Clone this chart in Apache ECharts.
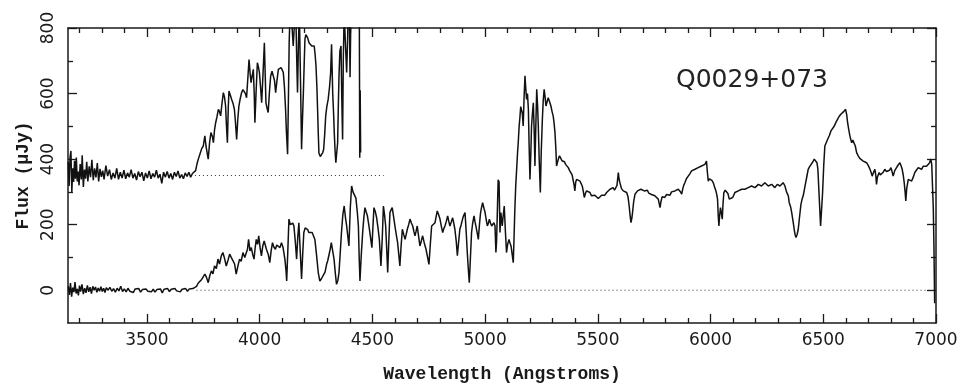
<!DOCTYPE html>
<html>
<head>
<meta charset="utf-8">
<script src="https://cdn.jsdelivr.net/npm/echarts@6/dist/echarts.min.js"></script>
<style>
  html, body { margin: 0; padding: 0; background: #fff; }
  #chart { width: 962px; height: 390px; }
</style>
</head>
<body>
<div id="chart"></div>
<script>
// Axis ticks and labels
const xMajorTicks = [3500, 4000, 4500, 5000, 5500, 6000, 6500, 7000];
const xMinorTicks = [3200, 3300, 3400, 3600, 3700, 3800, 3900, 4100, 4200, 4300, 4400,
  4600, 4700, 4800, 4900, 5100, 5200, 5300, 5400, 5600, 5700, 5800, 5900,
  6100, 6200, 6300, 6400, 6600, 6700, 6800, 6900];
const yMajorTicks = [0, 200, 400, 600, 800];
const yMinorTicks = [100, 300, 500, 700];

// Offset copy of the spectrum (shifted by +350 and stretched), [wavelength, flux]
const upperBlue = [[3151,392],[3155,318],[3159,405],[3163,425],[3167,300],[3171,372],[3175,330],[3179,395],[3183,340],[3187,405],[3191,332],[3195,362],[3199,320],[3204,385],[3209,338],[3213,412],[3218,315],[3223,368],[3228,340],[3233,392],[3238,332],[3244,378],[3250,345],[3256,398],[3262,336],[3268,372],[3274,344],[3280,388],[3286,332],[3292,370],[3298,346],[3304,365],[3310,338],[3318,380],[3326,348],[3334,368],[3342,338],[3350,358],[3358,342],[3366,372],[3374,338],[3382,360],[3390,342],[3398,366],[3406,340],[3414,358],[3422,345],[3430,368],[3438,342],[3446,356],[3454,336],[3462,362],[3470,346],[3478,360],[3486,334],[3494,358],[3502,342],[3510,364],[3518,340],[3526,356],[3534,345],[3542,366],[3550,342],[3558,354],[3566,326],[3574,360],[3582,345],[3590,362],[3598,342],[3606,356],[3614,338],[3622,360],[3630,347],[3638,364],[3646,342],[3654,353],[3662,340],[3670,358],[3678,347],[3686,360],[3694,345],[3702,356],[3710,350]];

const upperForest = [[3716,365],[3722,385],[3728,400],[3735,415],[3743,432],[3750,440],[3757,471],[3762,440],[3767,420],[3772,400],[3778,450],[3784,481],[3790,470],[3795,450],[3800,490],[3805,511],[3811,530],[3817,552],[3822,545],[3827,532],[3833,570],[3839,603],[3844,590],[3849,562],[3853,500],[3857,450],[3861,560],[3864,608],[3870,595],[3876,582],[3882,570],[3888,552],[3893,510],[3898,460],[3903,520],[3908,562],[3914,585],[3920,603],[3926,612],[3932,618],[3937,600],[3942,587],[3947,640],[3953,704],[3958,660],[3962,633],[3967,655],[3972,674],[3976,600],[3979,511],[3984,600],[3990,694],[3995,680],[3999,664],[4004,620],[4009,572],[4015,660],[4021,755],[4025,650],[4028,572],[4033,555],[4038,542],[4043,600],[4049,654],[4055,668],[4061,674],[4066,640],[4071,603],[4077,640],[4083,674],[4089,676],[4095,679],[4100,672],[4105,664],[4110,620],[4115,552],[4119,480],[4124,415],[4128,600],[4131,755],[4135,850],[4139,880],[4144,800],[4149,745],[4155,820],[4160,870],[4164,720],[4168,603],[4172,750],[4176,860],[4181,650],[4186,430],[4190,520],[4194,603],[4198,700],[4201,765],[4205,780],[4208,786],[4213,770],[4219,755],[4225,750],[4231,745],[4237,748],[4242,745],[4246,720],[4250,684],[4254,620],[4257,552],[4260,480],[4263,418],[4269,408],[4275,404],[4280,420],[4284,430],[4289,480],[4293,532],[4298,560],[4304,582],[4310,620],[4315,664],[4319,750],[4324,603],[4328,540],[4331,481],[4335,420],[4338,389],[4342,420],[4346,450],[4349,560],[4352,654],[4356,730],[4361,745],[4364,600],[4368,460],[4371,700],[4375,850],[4380,760],[4386,664],[4390,760],[4393,850],[4397,900],[4401,650],[4405,860],[4415,920],[4425,900],[4435,910],[4442,880],[4444,404],[4446,610],[4448,420]];

// Observed spectrum, [wavelength, flux]
const lowerBlue = [[3151,12],[3156,-14],[3161,22],[3166,-20],[3171,8],[3176,-6],[3181,25],[3186,-10],[3191,4],[3196,-16],[3201,14],[3206,-4],[3212,18],[3218,-12],[3224,6],[3230,-8],[3236,15],[3242,-5],[3248,9],[3254,-10],[3260,12],[3266,0],[3272,10],[3278,-6],[3284,7],[3290,-3],[3296,11],[3302,-4],[3308,6],[3314,-7],[3320,8],[3328,0],[3336,9],[3344,-3],[3352,5],[3360,-6],[3368,6],[3376,-2],[3384,12],[3392,-4],[3400,4],[3408,-5],[3416,6],[3424,-3],[3432,3],[3440,-7],[3448,4],[3456,-2],[3464,5],[3472,-6],[3480,2],[3488,-4],[3496,4],[3504,-3],[3512,2],[3520,-5],[3528,3],[3536,-6],[3544,2],[3552,-3],[3560,4],[3568,-8],[3576,3],[3584,-2],[3592,5],[3600,-4],[3608,3],[3616,-3],[3624,5],[3632,-2],[3640,4],[3648,-5],[3656,3],[3664,-1],[3672,5],[3680,-3],[3688,4],[3696,0],[3704,5],[3712,2]];

const lowerForest = [[3720,12],[3728,22],[3735,18],[3743,33],[3750,28],[3757,49],[3764,40],[3772,23],[3779,45],[3786,59],[3793,50],[3800,74],[3808,66],[3815,95],[3822,80],[3830,105],[3837,115],[3844,98],[3852,74],[3860,92],[3867,110],[3874,100],[3881,105],[3889,80],[3896,49],[3904,75],[3911,95],[3918,88],[3926,115],[3934,100],[3941,105],[3946,125],[3951,155],[3957,120],[3963,130],[3969,110],[3975,95],[3980,128],[3985,155],[3991,140],[3996,166],[4002,130],[4008,105],[4014,135],[4020,150],[4025,138],[4030,125],[4038,110],[4045,84],[4051,120],[4057,145],[4063,132],[4070,125],[4076,138],[4083,140],[4090,130],[4097,145],[4104,130],[4112,95],[4117,60],[4120,28],[4125,120],[4130,217],[4136,200],[4142,196],[4147,205],[4152,196],[4158,150],[4164,95],[4169,160],[4174,206],[4180,120],[4186,34],[4191,110],[4196,176],[4202,190],[4208,196],[4213,185],[4218,176],[4225,180],[4233,176],[4239,170],[4245,155],[4252,110],[4260,54],[4267,28],[4274,35],[4282,34],[4290,55],[4297,79],[4302,90],[4307,95],[4313,125],[4318,145],[4324,120],[4330,95],[4336,50],[4341,18],[4347,30],[4352,54],[4358,120],[4363,176],[4369,230],[4375,257],[4381,220],[4386,196],[4391,165],[4396,135],[4402,250],[4408,318],[4414,300],[4420,298],[4427,281],[4433,240],[4438,196],[4442,90],[4445,28],[4451,110],[4457,176],[4462,220],[4467,252],[4472,240],[4478,227],[4484,200],[4489,176],[4494,150],[4498,130],[4503,200],[4507,252],[4513,240],[4519,221],[4525,190],[4531,155],[4535,110],[4538,74],[4544,160],[4549,257],[4554,230],[4559,196],[4564,120],[4568,54],[4573,150],[4578,237],[4583,245],[4588,252],[4594,225],[4600,196],[4606,170],[4612,145],[4617,110],[4622,74],[4628,140],[4633,186],[4639,170],[4645,155],[4650,170],[4655,186],[4661,200],[4667,217],[4673,205],[4679,196],[4684,180],[4689,166],[4694,180],[4699,196],[4705,165],[4711,135],[4717,150],[4723,166],[4730,145],[4738,125],[4745,100],[4751,79],[4757,140],[4763,196],[4770,200],[4778,206],[4783,225],[4788,242],[4794,230],[4800,217],[4806,195],[4812,176],[4817,188],[4822,196],[4828,210],[4834,227],[4839,210],[4844,196],[4850,208],[4856,221],[4861,205],[4866,186],[4872,150],[4877,105],[4883,150],[4888,186],[4894,200],[4900,217],[4905,228],[4911,237],[4916,180],[4921,115],[4926,60],[4930,23],[4935,100],[4940,176],[4945,205],[4951,227],[4955,210],[4959,196],[4965,175],[4970,155],[4975,200],[4980,237],[4985,255],[4989,267],[4995,250],[5000,237],[5005,215],[5010,196],[5015,205],[5019,217],[5024,205],[5029,196],[5034,200],[5039,206],[5044,196],[5048,115],[5051,150],[5058,337],[5062,330],[5066,176],[5070,237],[5076,196],[5080,225],[5085,257],[5090,180],[5095,115],[5100,140],[5106,155],[5110,145],[5115,135],[5120,110],[5125,84],[5128,150],[5132,247]];

const lowerPeak = [[5136,320],[5140,369],[5144,420],[5147,450],[5151,500],[5155,532],[5158,560],[5162,562],[5165,540],[5169,501],[5173,590],[5177,654],[5180,620],[5184,582],[5188,600],[5192,552],[5195,450],[5199,338],[5203,420],[5206,501],[5210,540],[5214,572],[5218,480],[5221,379],[5225,500],[5229,613],[5233,560],[5236,501],[5240,400],[5245,298],[5249,420],[5254,521],[5258,580],[5262,613],[5266,590],[5270,562],[5275,575],[5280,587],[5286,575],[5292,562],[5297,545],[5302,532],[5306,510],[5310,481],[5314,430],[5317,379],[5321,390],[5325,400],[5330,410],[5336,402],[5341,395],[5347,389],[5352,392],[5357,384],[5363,380],[5369,374],[5375,365],[5381,359],[5386,352],[5391,348],[5395,320],[5398,303]];

const lowerRedA = [[5402,330],[5406,338],[5413,335],[5421,333],[5426,325],[5431,318],[5436,300],[5440,283],[5445,295],[5450,303],[5458,300],[5465,298],[5472,288],[5480,283],[5487,290],[5495,288],[5502,280],[5509,283],[5517,290],[5524,293],[5531,290],[5539,298],[5546,302],[5554,308],[5561,305],[5568,313],[5574,305],[5579,303],[5585,320],[5591,359],[5594,340],[5598,328],[5605,310],[5613,303],[5620,300],[5628,298],[5634,285],[5639,257],[5643,230],[5647,206],[5651,220],[5654,237],[5659,270],[5665,293],[5670,298],[5676,303],[5683,300],[5691,308],[5698,305],[5706,303],[5713,300],[5720,305],[5726,296],[5731,298],[5738,292],[5745,295],[5753,288],[5760,285],[5768,278],[5772,265],[5776,252],[5780,270],[5785,285],[5790,288],[5797,283],[5805,292],[5812,293],[5820,290],[5827,300],[5835,298],[5842,303],[5850,300],[5857,308],[5862,312],[5867,300],[5872,293],[5877,310],[5881,320],[5886,328],[5893,340],[5901,348],[5908,355],[5916,364],[5923,362],[5931,369],[5938,372],[5945,374],[5952,378],[5960,379],[5967,382],[5975,384],[5979,390],[5982,394],[5986,360],[5990,333],[5995,340]];

const lowerRedB = [[6000,343],[6006,335],[6012,328],[6018,315],[6024,303],[6028,290],[6031,278],[6034,230],[6037,196],[6040,225],[6044,252],[6048,235],[6052,217],[6055,260],[6059,298],[6065,305],[6071,308],[6077,295],[6083,278],[6090,280],[6098,283],[6103,290],[6108,298],[6115,300],[6123,303],[6130,300],[6138,308],[6145,305],[6152,308],[6160,310],[6167,313],[6175,312],[6182,318],[6190,316],[6197,313],[6205,318],[6212,323],[6219,320],[6226,318],[6234,322],[6241,328],[6248,322],[6256,318],[6263,320],[6271,323],[6278,318],[6285,313],[6290,318],[6296,323],[6302,320],[6308,318],[6315,322],[6322,328],[6330,318],[6337,300],[6345,288],[6349,267],[6355,255],[6360,237],[6366,210],[6371,186],[6375,170],[6379,161],[6384,170],[6389,186],[6395,225],[6401,262],[6406,278],[6411,288],[6417,310],[6422,328],[6428,350],[6433,369],[6440,378],[6448,384],[6454,392],[6460,400],[6466,396],[6472,389],[6476,370],[6481,298],[6485,240],[6488,196],[6492,240],[6497,298],[6502,380],[6507,440],[6513,450],[6519,460],[6527,472],[6534,486],[6541,492],[6549,501],[6556,512],[6563,521],[6570,530],[6578,537],[6584,540],[6589,544],[6594,548],[6599,552],[6604,535],[6608,511],[6613,490],[6618,471],[6622,460],[6626,450],[6631,458],[6637,455],[6642,440],[6648,420],[6655,410],[6662,402],[6670,398],[6677,394],[6685,392],[6692,389],[6700,380],[6707,369],[6712,360],[6717,348],[6722,358],[6729,369],[6733,350],[6736,323],[6740,345],[6748,359],[6753,352],[6759,348],[6766,360],[6773,369],[6780,362],[6788,359],[6794,366],[6800,374],[6805,362],[6810,348],[6817,365],[6825,374],[6832,382],[6840,389],[6845,380],[6850,369],[6855,350],[6859,328],[6863,300],[6866,272],[6870,310],[6877,338],[6884,335],[6892,333],[6899,345],[6906,359],[6913,366],[6921,374],[6928,370],[6936,369],[6943,378],[6951,384],[6958,378],[6965,374],[6971,388],[6977,400],[6981,385],[6985,379],[6988,250],[6991,128],[6994,-40]];

// Zero levels of the two traces
const upperZero = [[3713, 350], [4550, 350]];
const lowerZero = [[3720, 0], [7000, 0]];

const upperSpectrum = upperBlue.concat(upperForest);
const lowerSpectrum = lowerBlue.concat(lowerForest, lowerPeak, lowerRedA, lowerRedB);

const ink = '#1a1a1a';
const tickFont = { fontFamily: 'DejaVu Sans', fontSize: 17, color: ink };
const nameFont = { fontFamily: 'Liberation Mono', fontSize: 18, fontWeight: 'bold', color: ink };
const plainNumber = function (v) { return String(v); };

function xAxisDef(pos, ticks, len, withLine, withLabels) {
  return {
    type: 'value', position: pos, min: 3150, max: 7000,
    axisLine: { show: withLine, onZero: false, lineStyle: { color: ink, width: 1.5 } },
    axisTick: { show: true, inside: true, length: len, customValues: ticks, lineStyle: { color: ink, width: 1.3 } },
    axisLabel: withLabels ? Object.assign({ show: true, customValues: ticks, margin: 9, formatter: plainNumber }, tickFont) : { show: false },
    splitLine: { show: false }
  };
}
function yAxisDef(pos, ticks, len, withLine, withLabels) {
  return {
    type: 'value', position: pos, min: -100, max: 800,
    axisLine: { show: withLine, onZero: false, lineStyle: { color: ink, width: 1.5 } },
    axisTick: { show: true, inside: true, length: len, customValues: ticks, lineStyle: { color: ink, width: 1.3 } },
    axisLabel: withLabels ? Object.assign({ show: true, customValues: ticks, rotate: 90, margin: 11, formatter: plainNumber }, tickFont) : { show: false },
    splitLine: { show: false }
  };
}

const xMain = xAxisDef('bottom', xMajorTicks, 9, true, true);
xMain.name = 'Wavelength (Angstroms)';
xMain.nameLocation = 'middle';
xMain.nameGap = 42;
xMain.nameTextStyle = nameFont;

const yMain = yAxisDef('left', yMajorTicks, 9, true, true);
yMain.name = 'Flux (\u03BCJy)';
yMain.nameLocation = 'middle';
yMain.nameRotate = 90;
yMain.nameGap = 34;
yMain.nameTextStyle = nameFont;

const chart = echarts.init(document.getElementById('chart'), null, { renderer: 'canvas' });
chart.setOption({
  animation: false,
  backgroundColor: '#ffffff',
  grid: { left: 68, right: 26, top: 28, bottom: 67 },
  xAxis: [
    xMain,
    xAxisDef('bottom', xMinorTicks, 5, false, false),
    xAxisDef('top', xMajorTicks, 9, true, false),
    xAxisDef('top', xMinorTicks, 5, false, false)
  ],
  yAxis: [
    yMain,
    yAxisDef('left', yMinorTicks, 5, false, false),
    yAxisDef('right', yMajorTicks, 9, true, false),
    yAxisDef('right', yMinorTicks, 5, false, false)
  ],
  graphic: [{
    type: 'text', left: 676, top: 68,
    style: { text: 'Q0029+073', fontFamily: 'DejaVu Sans', fontSize: 25, fill: '#222' }
  }],
  series: [
    {
      type: 'line', data: upperZero, showSymbol: false, silent: true,
      lineStyle: { color: '#333', width: 1, type: [1, 3] }
    },
    {
      type: 'line', data: lowerZero, showSymbol: false, silent: true,
      lineStyle: { color: '#333', width: 1, type: [1, 3] }
    },
    {
      type: 'line', data: upperSpectrum, showSymbol: false, clip: true,
      lineStyle: { color: '#111', width: 1.5 }
    },
    {
      type: 'line', data: lowerSpectrum, showSymbol: false, clip: true,
      lineStyle: { color: '#111', width: 1.5 }
    }
  ]
});
</script>
</body>
</html>
